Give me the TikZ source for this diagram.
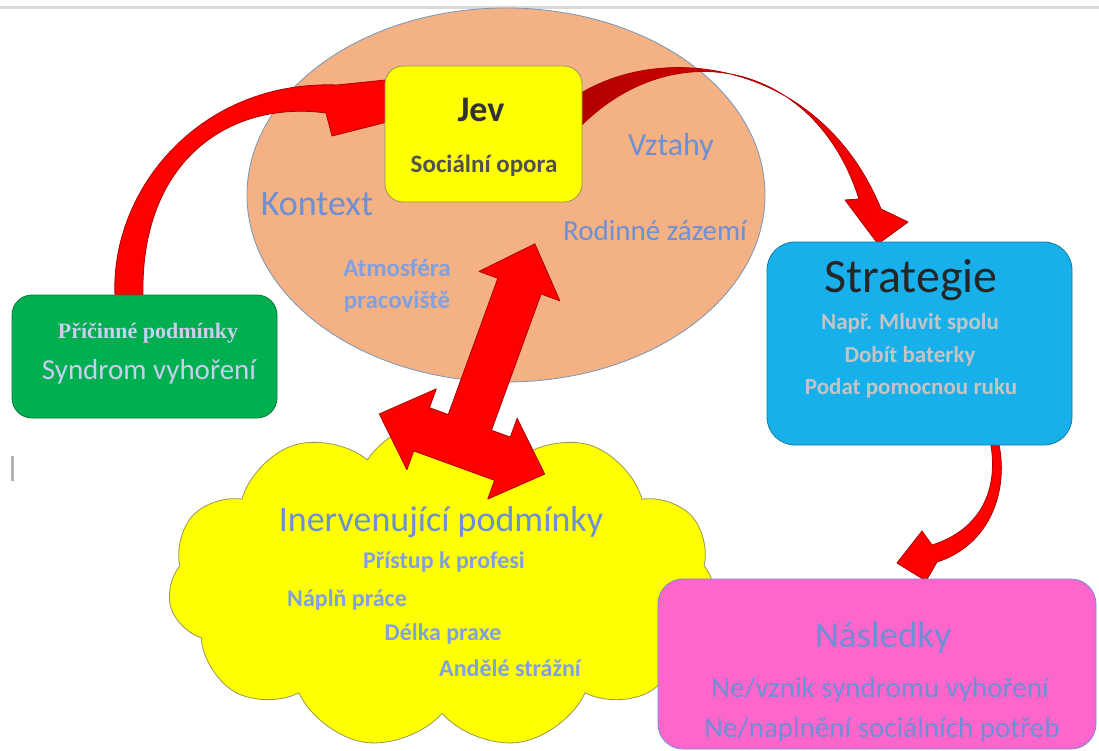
\documentclass[tikz,border=0pt]{standalone}
\usepackage{fontspec}
\setmainfont{Carlito}
\newfontfamily\serifbold{Liberation Serif}
\usetikzlibrary{shapes.geometric,shapes.symbols}
\newcommand\fsz[1]{\fontsize{#1}{#1}\selectfont}
\definecolor{peach}{RGB}{244,177,131}
\definecolor{peachline}{RGB}{120,150,185}
\definecolor{jevyellow}{RGB}{255,255,0}
\definecolor{jevline}{RGB}{150,150,90}
\definecolor{boxgreen}{RGB}{0,176,80}
\definecolor{boxblue}{RGB}{24,176,234}
\definecolor{boxpink}{RGB}{255,102,204}
\definecolor{arrowred}{RGB}{255,0,0}
\definecolor{arrowdark}{RGB}{176,0,0}
\definecolor{blueT}{RGB}{108,143,214}
\definecolor{lightblueT}{RGB}{128,160,224}
\definecolor{lavT}{RGB}{200,206,242}
\definecolor{grayT}{RGB}{196,196,196}
\definecolor{darkT}{RGB}{50,50,50}
\tikzset{
  roundbox/.style={rounded corners=#1, draw, line width=0.8pt, inner sep=0pt},
  fatarrow/.style={fill=arrowred, draw=arrowdark, line width=0.8pt, line join=round},
  txt/.style={inner sep=0pt, anchor=center},
}
\begin{document}
\begin{tikzpicture}[x=1pt,y=-1pt]
\useasboundingbox (0,0) rectangle (1099,751);
\fill[white] (0,0) rectangle (1099,751);
% top line and cursor bar
\fill[gray!30] (0,6) rectangle (1099,9);
\fill[gray!60] (11,456) rectangle (14,481);

% context ellipse
\node[ellipse, fill=peach, draw=peachline, line width=0.8pt, inner sep=0pt,
      minimum width=518pt, minimum height=374pt] (kontextell) at (506,195) {};

% cloud
\node[cloud, cloud puffs=11, cloud puff arc=115, fill=jevyellow, draw=jevline, line width=0.8pt,
      inner sep=0pt, minimum width=548pt, minimum height=330pt] (cloud) at (442,584) {};

% arrow 1: pricinne podminky -> jev
\path[fatarrow]
  (115,296) .. controls (110,190) and (200,80) .. (337,85)
  -- (395,79) -- (395,120) -- (332,136) -- (326,113)
  .. controls (230,100) and (140,160) .. (143,296) -- cycle;

% arrow 2: jev -> strategie
\path[fatarrow, left color=arrowdark, right color=arrowred]
  (575,97) .. controls (660,40) and (820,60) .. (881,209)
  -- (908,222) -- (878,244) -- (845,200) -- (859,199)
  .. controls (815,60) and (670,30) .. (575,132) -- cycle;

% arrow 3: strategie -> nasledky
\path[fatarrow]
  (990,440) .. controls (1000,490) and (980,530) .. (932,545)
  -- (922,531) -- (897,563) -- (926,581) -- (937,562)
  .. controls (990,545) and (1010,490) .. (998,440) -- cycle;

% double (T) arrow between kontext and cloud
\begin{scope}[shift={(462,444)}, rotate=-20]
\path[fatarrow] (0,-213) -- (43,-168) -- (23,-168) -- (23,-23) -- (43,-23) -- (43,-43)
  -- (88,0) -- (43,43) -- (43,23) -- (-43,23) -- (-43,43) -- (-88,0) -- (-43,-43)
  -- (-43,-23) -- (-23,-23) -- (-23,-168) -- (-43,-168) -- cycle;
\end{scope}

% boxes
\node[roundbox=18pt, fill=jevyellow, draw=jevline, minimum width=197pt, minimum height=136pt] (jev) at (483.5,134) {};
\node[roundbox=20pt, fill=boxgreen, draw=boxgreen!70!black, minimum width=265pt, minimum height=123pt] (pricina) at (144.5,356.5) {};
\node[roundbox=28pt, fill=boxblue, draw=boxblue!70!black, minimum width=305pt, minimum height=203pt] (strategie) at (919.5,343.5) {};
\node[roundbox=25pt, fill=boxpink, draw=blueT, minimum width=438pt, minimum height=170pt] (nasledky) at (877,664) {};

% texts: kontext
\node[txt, font=\fsz{36}\bfseries, text=darkT] (jevt) at (481,110) {Jev};
\node[txt, font=\fsz{25}\bfseries, text=darkT!85] (opora) at (484,166) {Sociální opora};
\node[txt, font=\fsz{36}, text=blueT] (kontextt) at (317,204) {Kontext};
\node[txt, font=\fsz{32}, text=blueT] (vztahy) at (671,147) {Vztahy};
\node[txt, font=\fsz{29}, text=blueT] (rodina) at (655,231) {Rodinné zázemí};
\node[txt, font=\fsz{25}\bfseries, text=lightblueT] (atmo) at (397,268) {Atmosféra};
\node[txt, font=\fsz{25}\bfseries, text=lightblueT] (prac) at (397,302) {pracoviště};

% texts: pricinne podminky
\node[txt, font=\serifbold\fsz{22}\bfseries, text=lavT] (pricinat) at (148,333) {Příčinné podmínky};
\node[txt, font=\fsz{29}, text=lavT] (syndrom) at (149,372) {Syndrom vyhoření};

% texts: strategie
\node[txt, font=\fsz{48}, text=black!85] (strategiet) at (911,280) {Strategie};
\node[txt, font=\fsz{23}\bfseries, text=grayT] (s1) at (910,323) {Např. Mluvit spolu};
\node[txt, font=\fsz{23}\bfseries, text=grayT] (s2) at (910,356) {Dobít baterky};
\node[txt, font=\fsz{23}\bfseries, text=grayT] (s3) at (911,388) {Podat pomocnou ruku};

% texts: nasledky
\node[txt, font=\fsz{37}, text=blueT] (nasledkyt) at (883,638) {Následky};
\node[txt, font=\fsz{29}, text=blueT] (n1) at (880,690) {Ne/vznik syndromu vyhoření};
\node[txt, font=\fsz{29}, text=blueT] (n2) at (882,730) {Ne/naplnění sociálních potřeb};

% texts: cloud
\node[txt, font=\fsz{36}, text=blueT] (inter) at (441,522) {Inervenující podmínky};
\node[txt, font=\fsz{24}\bfseries, text=lightblueT] (c1) at (444,562) {Přístup k profesi};
\node[txt, font=\fsz{24}\bfseries, text=lightblueT] (c2) at (347,600) {Náplň práce};
\node[txt, font=\fsz{24}\bfseries, text=lightblueT] (c3) at (443,634) {Délka praxe};
\node[txt, font=\fsz{24}\bfseries, text=lightblueT] (c4) at (510,668) {Andělé strážní};
\end{tikzpicture}
\end{document}
